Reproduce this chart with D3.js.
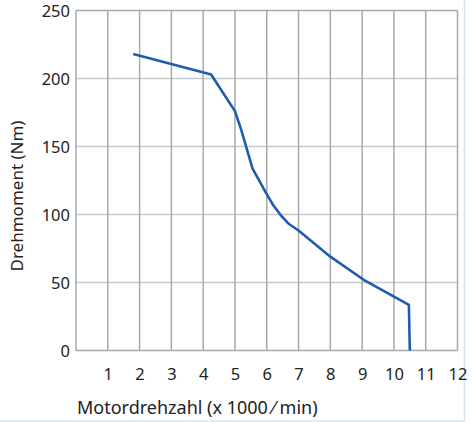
<!doctype html>
<html lang="de">
<head>
  <meta charset="utf-8">
  <style>
    body { margin: 0; background-color: white; }
    svg { display: block; background-color: white; }
    text { font-family: "Noto Sans", "Open Sans", sans-serif; fill: #222; }
    .tick text { font-size: 16.5px; }
    .hgrid line { stroke: #c3cbcf; stroke-width: 1.5px; }
    .vgrid line { stroke: #a9a9a9; stroke-width: 1.5px; }
    .curve { fill: none; stroke: #1f5cae; stroke-width: 2.6px; stroke-linejoin: round; }
  </style>
</head>
<body>
<script src="https://d3js.org/d3.v7.min.js"></script>
<script>
var width = 475,
    height = 422;

// Drehzahl (x 1000/min) und Drehmoment (Nm)
var speed  = [1.8, 4.25, 5.0, 5.2, 5.55, 5.98, 6.2, 6.43, 6.7, 7.0, 8.0, 9.05, 10.47, 10.5];
var torque = [218, 203, 176, 162, 134, 115.7, 107, 99.8, 93, 88.2, 69, 52, 33.5, 0];

var xTicks = [1, 2, 3, 4, 5, 6, 7, 8, 9, 10, 11, 12];
var yTicks = [0, 50, 100, 150, 200, 250];

var x = d3.scaleLinear().domain([0, 12]).range([76, 457.5]);
var y = d3.scaleLinear().domain([0, 250]).range([350.5, 10.5]);

var svg = d3.select("body").append("svg")
  .attr("width", width)
  .attr("height", height);

// frame lines at right and bottom edge
svg.append("line")
  .attr("x1", 464.5).attr("x2", 464.5).attr("y1", 0).attr("y2", 421)
  .style("stroke", "#d6e4f0").style("stroke-width", 1.5);
svg.append("line")
  .attr("x1", 0).attr("x2", 465).attr("y1", 421).attr("y2", 421)
  .style("stroke", "#d6e4f0").style("stroke-width", 1.5);

// horizontal grid
svg.append("g")
  .attr("class", "hgrid")
  .selectAll("line")
  .data(yTicks.filter(function(d) { return d > 0 && d < 250; }))
  .enter().append("line")
  .attr("x1", x(0)).attr("x2", x(12))
  .attr("y1", function(d) { return y(d); })
  .attr("y2", function(d) { return y(d); });

// vertical grid (incl. left/right border)
svg.append("g")
  .attr("class", "vgrid")
  .selectAll("line")
  .data([0].concat(xTicks))
  .enter().append("line")
  .attr("x1", function(d) { return x(d); })
  .attr("x2", function(d) { return x(d); })
  .attr("y1", y(250)).attr("y2", y(0));

// top and bottom border
svg.append("g")
  .attr("class", "vgrid")
  .selectAll("line")
  .data([0, 250])
  .enter().append("line")
  .attr("x1", x(0)).attr("x2", x(12))
  .attr("y1", function(d) { return y(d); })
  .attr("y2", function(d) { return y(d); });

// axes (only labels, lines are drawn by the grid)
var yAxis = svg.append("g")
  .attr("transform", "translate(" + x(0) + ",0)")
  .call(d3.axisLeft(y).tickValues(yTicks).tickSize(0).tickPadding(6));
yAxis.select(".domain").remove();
yAxis.selectAll(".tick text").attr("dy", "0.36em");

var xAxis = svg.append("g")
  .attr("transform", "translate(0," + y(0) + ")")
  .call(d3.axisBottom(x).tickValues(xTicks).tickSize(0).tickPadding(18));
xAxis.select(".domain").remove();

// axis titles
svg.append("text")
  .attr("x", 77).attr("y", 414)
  .style("font-size", "18px")
  .text("Motordrehzahl (x 1000 ⁄ min)");

svg.append("text")
  .attr("transform", "translate(23,196)rotate(-90)")
  .attr("text-anchor", "middle")
  .style("font-size", "17px")
  .text("Drehmoment (Nm)");

// curve
var line = d3.line()
  .x(function(d, i) { return x(speed[i]); })
  .y(function(d) { return y(d); });

svg.append("path")
  .datum(torque)
  .attr("class", "curve")
  .attr("d", line);
</script>
</body>
</html>
